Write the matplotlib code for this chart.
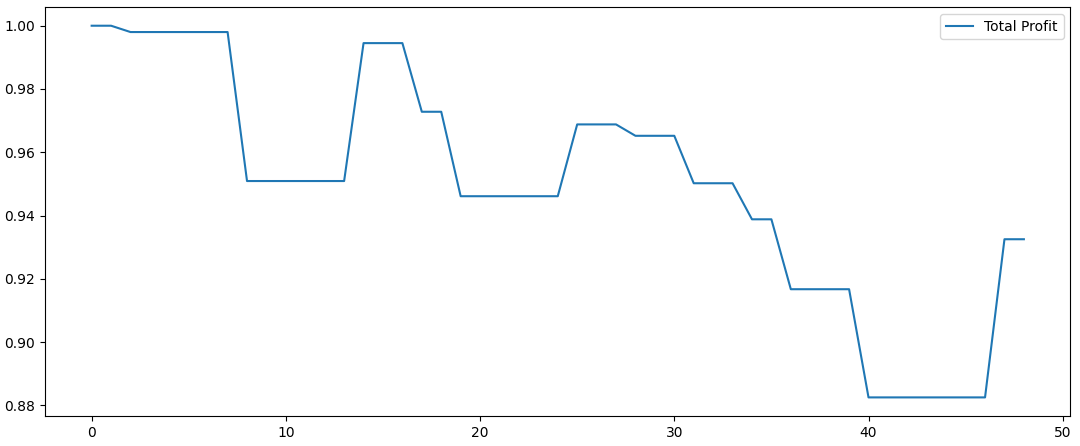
import matplotlib
matplotlib.use("Agg")
import matplotlib.pyplot as plt

steps = list(range(49))
total_profit = [
    1.0000, 1.0000, 0.9980, 0.9980, 0.9980, 0.9980, 0.9980, 0.9980,
    0.9509, 0.9509, 0.9509, 0.9509, 0.9509, 0.9509,
    0.9945, 0.9945, 0.9945,
    0.9728, 0.9728,
    0.9461, 0.9461, 0.9461, 0.9461, 0.9461, 0.9461,
    0.9688, 0.9688, 0.9688,
    0.9652, 0.9652, 0.9652,
    0.9502, 0.9502, 0.9502,
    0.9388, 0.9388,
    0.9167, 0.9167, 0.9167, 0.9167,
    0.8825, 0.8825, 0.8825, 0.8825, 0.8825, 0.8825, 0.8825,
    0.9325, 0.9325,
]

fig = plt.figure(figsize=(10.8, 4.46), dpi=100)
ax = fig.add_axes([0.0417, 0.0673, 0.9495, 0.9167])
ax.plot(steps, total_profit, label="Total Profit")
ax.legend(loc="upper right")
fig.savefig("out.png", dpi=100)
